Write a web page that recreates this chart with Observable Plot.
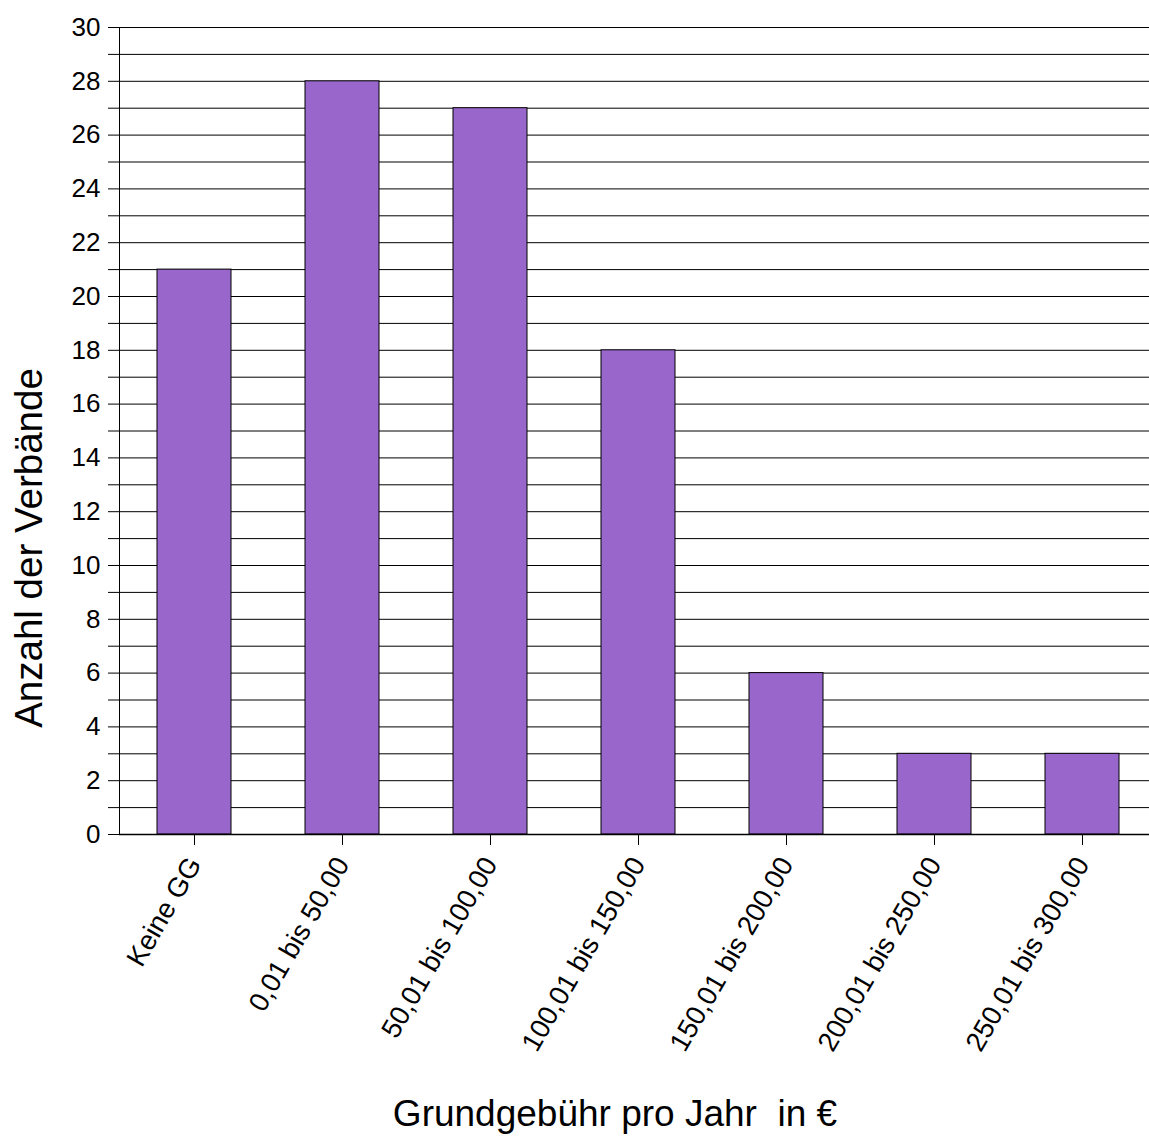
<!DOCTYPE html>
<html>
<head>
<meta charset="utf-8">
<script src="https://cdn.jsdelivr.net/npm/d3@7"></script>
<script src="https://cdn.jsdelivr.net/npm/@observablehq/plot@0.6"></script>
<style>
  html, body { margin: 0; padding: 0; background: #fff; }
  #wrap { position: relative; width: 1149px; height: 1138px; font-family: 'Liberation Sans', Arial, sans-serif; color: #000; }
  #wrap svg { display: block; }
  .title { position: absolute; font-size: 37px; white-space: pre; line-height: 1; }
  #ytitle { left: 29px; top: 548px; font-size: 38.5px; transform: translate(-50%, -50%) rotate(-90deg); }
  #xtitle { left: 615px; top: 1113px; transform: translate(-50%, -50%); }
</style>
</head>
<body>
<div id="wrap">
  <div id="chart"></div>
  <div class="title" id="ytitle"></div>
  <div class="title" id="xtitle"></div>
</div>
<script>
const categories = ["Keine GG", "0,01 bis 50,00", "50,01 bis 100,00", "100,01 bis 150,00", "150,01 bis 200,00", "200,01 bis 250,00", "250,01 bis 300,00"];
const counts = [21, 28, 27, 18, 6, 3, 3];
const yTicks = d3.range(0, 31, 1);
const yTitle = "Anzahl der Verbände";
const xTitle = "Grundgebühr pro Jahr  in €";

const data = categories.map((c, i) => ({category: c, value: counts[i]}));

const W = 1149, H = 1138;
const mTop = 27, mBottom = H - 834, mLeft = 119, mRight = 0;

const chart = Plot.plot({
  width: W,
  height: H,
  marginTop: mTop,
  marginBottom: mBottom,
  marginLeft: mLeft,
  marginRight: mRight,
  style: {fontFamily: "'Liberation Sans', Arial, sans-serif", color: "#000", background: "#fff"},
  x: {domain: categories, range: [119.5, 1155.5], paddingInner: 0.5, paddingOuter: 0.25, label: null},
  y: {domain: [0, 30], label: null},
  marks: [
    Plot.gridY(yTicks, {stroke: "#000", strokeOpacity: 1, strokeWidth: 1}),
    Plot.axisY(yTicks, {tickSize: 11, tickPadding: 8, fontSize: 26, stroke: "#000", label: null,
      tickFormat: d => d % 2 === 0 ? String(d) : ""}),
    Plot.barY(data, {x: "category", y: "value", fill: "#9966cc", stroke: "#000", strokeWidth: 1}),
    Plot.ruleY([0], {stroke: "#000", strokeWidth: 1.5}),
    Plot.frame({anchor: "left", stroke: "#000"}),
    Plot.axisX({tickSize: 11, tickPadding: 14, tickRotate: -60, fontSize: 27.5, label: null, stroke: "#000"})
  ]
});
document.getElementById("chart").appendChild(chart);
document.getElementById("ytitle").textContent = yTitle;
document.getElementById("xtitle").textContent = xTitle;
</script>
</body>
</html>
